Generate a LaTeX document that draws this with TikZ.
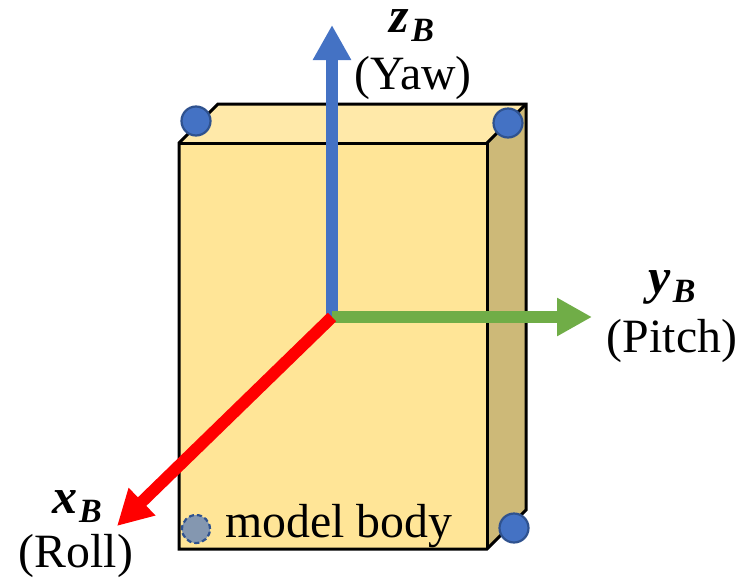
\documentclass[tikz,border=0pt]{standalone}
\usepackage{fontspec}
\setmainfont{Liberation Serif}
\usetikzlibrary{arrows.meta}
\definecolor{frontc}{HTML}{FFE597}
\definecolor{topc}{HTML}{FFE9A9}
\definecolor{sidec}{HTML}{CDB978}
\definecolor{blueA}{HTML}{4472C4}
\definecolor{blueE}{HTML}{2F528F}
\definecolor{greyA}{HTML}{8497B0}
\definecolor{greenA}{HTML}{70AD47}
\newcommand{\axsym}[1]{{\bfseries\itshape\fontsize{50}{52}\selectfont #1\kern2pt\raisebox{-9pt}{\fontsize{34}{36}\selectfont B}}}
\tikzset{
  face/.style={draw=black,line width=3pt,line join=miter},
  dot/.style={circle,fill=blueA,draw=blueE,line width=2.2pt,minimum size=29pt,inner sep=0pt},
  ghostdot/.style={circle,fill=greyA,draw=blueE,line width=2.2pt,dash pattern=on 5pt off 3pt,minimum size=28pt,inner sep=0pt},
  axisline/.style={line width=12pt,-{Triangle[length=35pt,width=36pt]}},
  lbl/.style={inner sep=0pt,font=\fontsize{47.8}{50}\selectfont},
  sym/.style={inner sep=0pt}
}
\begin{document}
\begin{tikzpicture}[x=1pt,y=-1pt]
\useasboundingbox (0,0) rectangle (747,579);
% model body
\coordinate (fa) at (179,143);
\coordinate (fb) at (487,143);
\coordinate (fc) at (487,549);
\coordinate (fd) at (179,549);
\coordinate (ba) at (218,104);
\coordinate (bb) at (526,104);
\coordinate (bc) at (526,510);
\fill[topc] (fa) -- (ba) -- (bb) -- (fb) -- cycle;
\fill[sidec] (fb) -- (bb) -- (bc) -- (fc) -- cycle;
\fill[frontc] (fa) -- (fb) -- (fc) -- (fd) -- cycle;
\draw[face] (fa) -- (ba) -- (bb) -- (bc) -- (fc) -- (fd) -- cycle;
\draw[face] (fa) -- (fb) -- (fc);
\draw[face] (fb) -- (bb);
% corner markers
\node[dot] (d1) at (196,121) {};
\node[dot] (d2) at (508,123) {};
\node[dot] (d3) at (514,528) {};
\node[ghostdot] (d4) at (196,529) {};
% axes
\coordinate (o) at (332,317);
\coordinate (ztip) at (332,25);
\coordinate (ytip) at (592,317);
\coordinate (xtip) at (117,526);
\draw[axisline,blueA] (o) -- (ztip);
\draw[axisline,greenA] (o) -- (ytip);
\draw[axisline,red] (o) -- (xtip);
% labels
\node[sym] (zl) at (412,26) {\axsym{z}};
\node[lbl] (yaw) at (413,78) {(Yaw)};
\node[sym] (yl) at (672,287) {\axsym{y}};
\node[lbl] (pitch) at (672,341) {(Pitch)};
\node[sym] (xl) at (77,507) {\axsym{x}};
\node[lbl] (roll) at (76,556) {(Roll)};
\node[lbl] (mb) at (339,526) {model body};
\end{tikzpicture}
\end{document}
